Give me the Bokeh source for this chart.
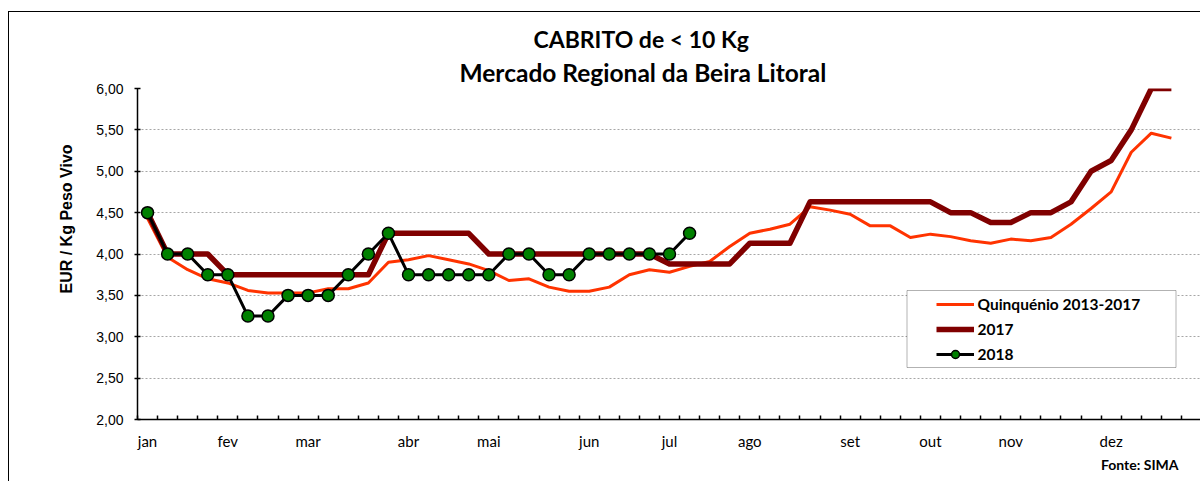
from bokeh.plotting import figure
from bokeh.models import FixedTicker, Legend, LegendItem, BoxAnnotation, Title
from bokeh.embed import file_html
from bokeh.resources import INLINE

# ---- data (weekly prices, EUR / kg live weight) ----
semanas = list(range(52))

quinquenio = [4.43, 3.96, 3.81, 3.70, 3.65, 3.56, 3.53, 3.53, 3.53, 3.58,
              3.58, 3.65, 3.90, 3.93, 3.98, 3.93, 3.88, 3.80, 3.68, 3.70,
              3.60, 3.55, 3.55, 3.60, 3.75, 3.81, 3.78, 3.85, 3.91, 4.09,
              4.25, 4.30, 4.36, 4.57, 4.53, 4.48, 4.34, 4.34, 4.20, 4.24,
              4.21, 4.16, 4.13, 4.18, 4.16, 4.20, 4.36, 4.55, 4.75, 5.23,
              5.46, 5.40]

ano_2017 = [4.50, 4.00, 4.00, 4.00, 3.75, 3.75, 3.75, 3.75, 3.75, 3.75,
            3.75, 3.75, 4.25, 4.25, 4.25, 4.25, 4.25, 4.00, 4.00, 4.00,
            4.00, 4.00, 4.00, 4.00, 4.00, 4.00, 3.88, 3.88, 3.88, 3.88,
            4.13, 4.13, 4.13, 4.63, 4.63, 4.63, 4.63, 4.63, 4.63, 4.63,
            4.50, 4.50, 4.38, 4.38, 4.50, 4.50, 4.63, 5.00, 5.13, 5.50,
            6.00, 6.00]

ano_2018 = [4.50, 4.00, 4.00, 3.75, 3.75, 3.25, 3.25, 3.50, 3.50, 3.50,
            3.75, 4.00, 4.25, 3.75, 3.75, 3.75, 3.75, 3.75, 4.00, 4.00,
            3.75, 3.75, 4.00, 4.00, 4.00, 4.00, 4.00, 4.25]
semanas_2018 = semanas[:len(ano_2018)]

meses = ["jan", "fev", "mar", "abr", "mai", "jun", "jul", "ago", "set", "out", "nov", "dez"]
meses_semana = [0, 4, 8, 13, 17, 22, 26, 30, 35, 39, 43, 48]

y_ticks = [2.0, 2.5, 3.0, 3.5, 4.0, 4.5, 5.0, 5.5, 6.0]
y_tick_labels = ["2,00", "2,50", "3,00", "3,50", "4,00", "4,50", "5,00", "5,50", "6,00"]

serie_nomes = ["Quinquénio 2013-2017", "2017", "2018"]

titulo_1 = "CABRITO de < 10 Kg"
titulo_2 = "Mercado Regional da Beira Litoral"
eixo_y = "EUR / Kg Peso Vivo"
fonte = "Fonte: SIMA"

# ---- figure ----
p = figure(width=1192, height=470, x_range=(-0.5, 52.5), y_range=(2, 6),
           output_backend="svg", toolbar_location=None,
           min_border_left=128, min_border_right=0,
           min_border_top=76, min_border_bottom=63)
p.title = None
p.outline_line_color = None
p.background_fill_color = "white"
p.border_fill_color = "white"
p.styles = {"margin-left": "8px", "margin-top": "11px",
            "border-left": "1.5px solid black", "border-top": "1.5px solid black"}

p.xgrid.visible = False
p.ygrid.ticker = FixedTicker(ticks=y_ticks)
p.ygrid.grid_line_color = "#a6a6a6"
p.ygrid.grid_line_dash = "2 2"
p.ygrid.grid_line_width = 1

# x axis
xa = p.xaxis[0]
xa.ticker = FixedTicker(ticks=meses_semana, minor_ticks=[i + 0.5 for i in range(-1, 53)])
xa.major_label_overrides = {s: m for s, m in zip(meses_semana, meses)}
xa.major_tick_in = 0
xa.major_tick_out = 0
xa.minor_tick_in = 4
xa.minor_tick_out = 0
xa.minor_tick_line_color = "black"
xa.minor_tick_line_width = 1.5
xa.axis_line_color = "black"
xa.axis_line_width = 1.5
xa.major_label_standoff = 12
xa.major_label_text_font = "Lato"
xa.major_label_text_font_size = "15px"
xa.major_label_text_color = "black"

# y axis
ya = p.yaxis[0]
ya.ticker = FixedTicker(ticks=y_ticks)
ya.major_label_overrides = {t: l for t, l in zip(y_ticks, y_tick_labels)}
ya.minor_tick_line_color = None
ya.major_tick_in = 3
ya.major_tick_out = 3
ya.major_tick_line_color = "black"
ya.major_tick_line_width = 1.5
ya.axis_line_color = "black"
ya.axis_line_width = 1.5
ya.major_label_standoff = 11
ya.major_label_text_font = "Liberation Sans"
ya.major_label_text_font_size = "14px"
ya.major_label_text_color = "black"

# ---- series ----
r_q = p.line(semanas, quinquenio, line_color="#ff3300", line_width=3, line_join="round")
r_17 = p.line(semanas, ano_2017, line_color="#800000", line_width=5.5, line_join="round")
r_18l = p.line(semanas_2018, ano_2018, line_color="black", line_width=3, line_join="round")
r_18m = p.scatter(semanas_2018, ano_2018, size=12, fill_color="#008000",
                  line_color="black", line_width=1.5)

# legend box
p.add_layout(BoxAnnotation(left=769.5, right=1038.5, top=129, bottom=52,
                           left_units="screen", right_units="screen",
                           top_units="screen", bottom_units="screen",
                           fill_color="white", fill_alpha=1,
                           line_color="black", line_width=1))

legend = Legend(items=[LegendItem(label=serie_nomes[0], renderers=[r_q]),
                       LegendItem(label=serie_nomes[1], renderers=[r_17]),
                       LegendItem(label=serie_nomes[2], renderers=[r_18l, r_18m])],
                location=(798.5, 55), padding=3, spacing=5, margin=0,
                glyph_width=38, glyph_height=20, label_height=20, label_standoff=4,
                label_text_font="Lato", label_text_font_style="bold",
                label_text_font_size="15.5px", label_text_color="black",
                background_fill_alpha=0, border_line_color=None)
p.add_layout(legend, "center")

# ---- texts ----
p.add_layout(Title(text=titulo_2, align="left", offset=322, standoff=4,
                   text_font="Lato", text_font_style="bold", text_font_size="24.5px",
                   text_color="black"), "above")
p.add_layout(Title(text=titulo_1, align="left", offset=396, standoff=1,
                   text_font="Lato", text_font_style="bold", text_font_size="23px",
                   text_color="black"), "above")
p.add_layout(Title(text=eixo_y, align="left", offset=126, standoff=37,
                   text_font="Liberation Sans", text_font_style="bold",
                   text_font_size="16px", text_color="black"), "left")
p.add_layout(Title(text=fonte, align="right", offset=23, standoff=3,
                   text_font="Lato", text_font_style="bold", text_font_size="14px",
                   text_color="black"), "below")

open("out.html", "w").write(file_html(p, INLINE))
